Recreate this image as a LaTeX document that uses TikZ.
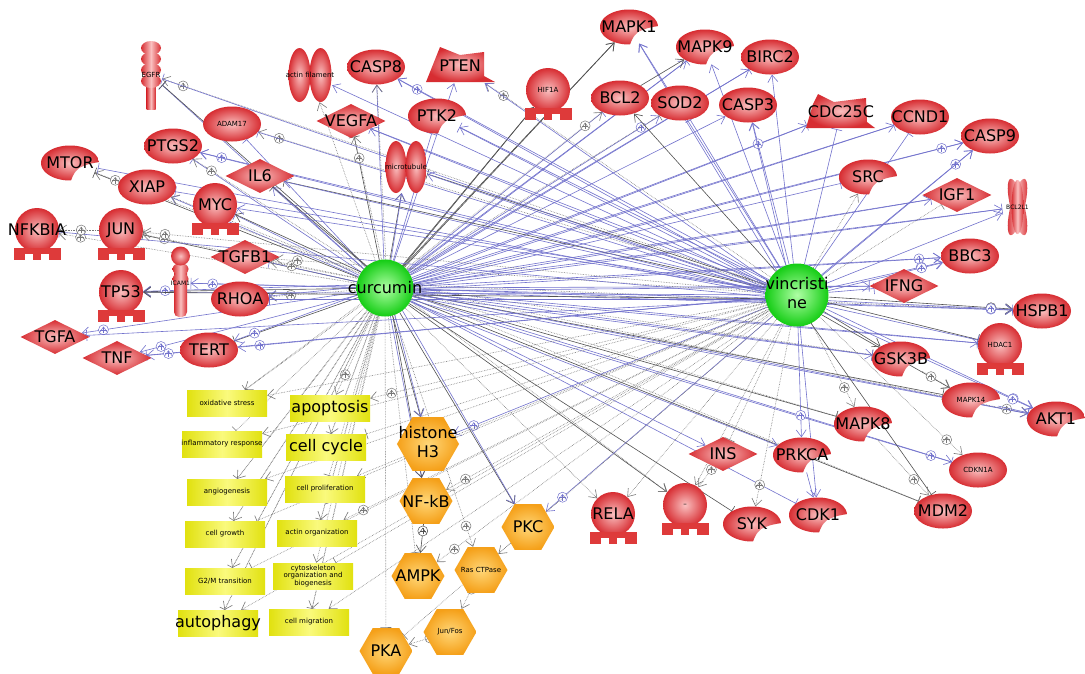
\documentclass[tikz,border=0pt]{standalone}
\usepackage{fontspec}
\setmainfont{DejaVu Sans}
\usetikzlibrary{shapes.geometric,arrows.meta,decorations.markings}
\definecolor{edb}{RGB}{115,115,205}
\definecolor{edd}{RGB}{80,80,80}
\definecolor{edg}{RGB}{120,120,120}
\definecolor{rin}{RGB}{250,192,192}
\definecolor{rout}{RGB}{215,45,50}
\definecolor{rbase}{RGB}{222,58,58}
\definecolor{gin}{RGB}{175,255,165}
\definecolor{gout}{RGB}{20,205,20}
\definecolor{oin}{RGB}{255,215,120}
\definecolor{oout}{RGB}{245,160,25}
\definecolor{yin}{RGB}{250,250,125}
\definecolor{yout}{RGB}{225,225,15}
\newcommand\zl[1]{\makebox[0pt]{#1}}
\newcommand\tfbase[1]{%
 \fill[rbase] ([shift={(-23.5pt,4pt)}]#1.south) rectangle ([shift={(23.5pt,-2pt)}]#1.south);
 \fill[rbase] ([shift={(-23.5pt,-1.5pt)}]#1.south) rectangle ([shift={(-12pt,-7.5pt)}]#1.south);
 \fill[rbase] ([shift={(-4pt,-1.5pt)}]#1.south) rectangle ([shift={(4pt,-7.5pt)}]#1.south);
 \fill[rbase] ([shift={(12pt,-1.5pt)}]#1.south) rectangle ([shift={(23.5pt,-7.5pt)}]#1.south);}
% kinase shape (ellipse with a notch at lower right) and its node
\newcommand\kinode[5][]{%
 \shade[rsh] plot[domain=-3:-272, samples=60, variable=\aa] ({#3+29*cos(\aa)},{#4+17.5*sin(\aa)})
   .. controls ({#3+4},{#4+10}) .. ({#3+9},{#4+5}) .. controls ({#3+18},{#4+1}) .. cycle;
 \node[kin,#1] (#2) at (#3,#4) {\zl{#5}};}
\pgfdeclarelayer{bg}
\pgfdeclarelayer{edges}
\pgfsetlayers{bg,edges,main}
\tikzset{
 big/.style={font=\fontsize{16}{19}\selectfont},
 sml/.style={font=\fontsize{7}{8}\selectfont},
 rsh/.style={shade, inner color=rin, outer color=rout},
 csh/.style={shade, left color=rout, right color=rout, middle color=rin},
 ell/.style={ellipse, minimum width=58pt, minimum height=35pt, inner sep=0pt, rsh, big},
 kin/.style={ellipse, minimum width=58pt, minimum height=35pt, inner sep=0pt, big},
 dia/.style={diamond, minimum width=69pt, minimum height=34pt, inner sep=0pt, rsh, big},
 tf/.style={circle, minimum size=44pt, inner sep=0pt, rsh, big},
 hex/.style={regular polygon, regular polygon sides=6, minimum size=53pt, inner sep=0pt, shade, inner color=oin, outer color=oout, big},
 drug/.style={circle, inner sep=0pt, shade, inner color=gin, outer color=gout, big},
 ybox/.style={rectangle, minimum width=80pt, minimum height=26pt, inner sep=0pt, shade, left color=yout, right color=yout, middle color=yin, sml, align=center},
 ghost/.style={rectangle, inner sep=0pt},
 eb/.style={draw=edb, line width=0.6pt},
 ed/.style={draw=edd, line width=0.6pt},
 eg/.style={draw=edg, line width=0.6pt, densely dotted},
 ar/.style={-{Straight Barb[length=7pt,width=10pt]}},
 tb/.style={-{Bar[width=11pt]}},
 oplus/.style={circle, draw=#1, fill=white, solid, line width=0.5pt, minimum size=10pt, inner sep=0pt,
   path picture={\draw[#1, solid, line width=0.5pt]
     ([xshift=-3.3pt]path picture bounding box.center) -- ([xshift=3.3pt]path picture bounding box.center)
     ([yshift=-3.3pt]path picture bounding box.center) -- ([yshift=3.3pt]path picture bounding box.center);}},
 pk/.style={postaction={decorate}, decoration={markings, mark=at position -22pt with {\node[oplus=#1] {};}}},
 lba/.style={eb, ar}, lbt/.style={eb, tb}, lbp/.style={eb, ar, pk=edb},
 lda/.style={ed, ar}, ldt/.style={ed, tb}, ldp/.style={ed, ar, pk=edd},
 lga/.style={eg, ar}, lgt/.style={eg, tb}, lgp/.style={eg, ar, pk=edg},
}
\begin{document}
\begin{tikzpicture}[x=1pt,y=-1pt]
\begin{pgfonlayer}{bg}
\fill[white] (0,0) rectangle (1085,673);
\end{pgfonlayer}
\useasboundingbox (0,0) rectangle (1085,673);

% ---- custom shapes ----
% EGFR receptor
\shade[csh] (146.5,80) rectangle (155.5,109);
\foreach \yy in {48,59,70,81} {\shade[csh] (151,\yy) ellipse[x radius=10pt, y radius=7pt];}
% ICAM1 receptor
\shade[csh, rounded corners=5pt] (174,264) rectangle (187,317);
\foreach \yy in {269,279} {\shade[csh] (180.5,\yy) ellipse[x radius=8pt, y radius=6pt];}
\shade[rsh] (180.5,256) circle[radius=9.5pt];
% BCL2L1
\shade[csh, rotate around={14:(1017.5,207)}] (1017.5,207) ellipse[x radius=7pt, y radius=29pt];
\shade[csh, rotate around={-14:(1017.5,207)}] (1017.5,207) ellipse[x radius=7pt, y radius=29pt];
\shade[csh] (1017.5,207) ellipse[x radius=6pt, y radius=27pt];
% actin filament, microtubule
\shade[rsh] (299.5,75) ellipse[x radius=11pt, y radius=27pt];
\shade[rsh] (320.5,75) ellipse[x radius=11pt, y radius=27pt];
\shade[rsh] (396,167) ellipse[x radius=10.5pt, y radius=26pt];
\shade[rsh] (416,167) ellipse[x radius=10.5pt, y radius=26pt];
% PTEN, CDC25C
\shade[rsh] (426,82) -- (440,47) -- (460,55) -- (484,52) -- (484,76) -- (495,82) -- cycle;
\shade[rsh] (806,128) -- (813,104) -- (818,94) -- (834,102) -- (866,98) -- (867,122) -- (875,128) -- cycle;

% ---- nodes ----
\node[drug, minimum size=57pt] (cur) at (385,288) {\zl{curcumin}};
\node[drug, minimum size=63pt] (vin) at (797,295) {\zl{\begin{tabular}{@{}c@{}}vincristi\\ne\end{tabular}}};

\node[ghost, minimum width=22pt, minimum height=68pt, sml] (EGFR) at (151,75) {EGFR};
\node[ghost, minimum width=20pt, minimum height=70pt, font=\fontsize{6}{7}\selectfont] (ICAM1) at (180.5,283) {ICAM1};
\node[ghost, minimum width=30pt, minimum height=58pt, font=\fontsize{6}{7}\selectfont] (BCL2L1) at (1017.5,207) {BCL2L1};
\node[ghost, minimum width=44pt, minimum height=54pt, sml] (actf) at (310,75) {\zl{actin filament}};
\node[ghost, minimum width=42pt, minimum height=52pt, sml] (mict) at (406,167) {\zl{microtubule}};
\node[ghost, minimum width=68pt, minimum height=34pt, big] (PTEN) at (460,66) {\zl{PTEN}};
\node[ghost, minimum width=68pt, minimum height=34pt, big] (CDC25C) at (841,112) {\zl{CDC25C}};

\node[ell] (CASP8) at (376,67) {\zl{CASP8}};
\node[ell] (BCL2) at (620,98) {\zl{BCL2}};
\node[ell] (SOD2) at (680,103) {\zl{SOD2}};
\node[ell] (CASP3) at (748,105) {\zl{CASP3}};
\node[ell] (BIRC2) at (770,57) {\zl{BIRC2}};
\node[ell] (CCND1) at (920,117) {\zl{CCND1}};
\node[ell] (CASP9) at (990,136) {\zl{CASP9}};
\node[ell] (BBC3) at (970,256) {\zl{BBC3}};
\node[ell] (HSPB1) at (1042,311) {\zl{HSPB1}};
\node[ell] (MDM2) at (943,511) {\zl{MDM2}};
\node[ell, sml] (CDKN1A) at (978,470) {\zl{CDKN1A}};
\node[ell] (PTGS2) at (173,146) {\zl{PTGS2}};
\node[ell, sml] (ADAM17) at (232,124) {\zl{ADAM17}};
\node[ell] (XIAP) at (147,187) {\zl{XIAP}};
\node[ell] (RHOA) at (240,299) {\zl{RHOA}};
\node[ell] (TERT) at (209,350) {\zl{TERT}};

\kinode{MAPK1}{629}{27}{MAPK1}
\kinode{MAPK9}{705}{47}{MAPK9}
\kinode{PTK2}{437}{116}{PTK2}
\kinode{SRC}{868}{177}{SRC}
\kinode{GSK3B}{901}{359}{GSK3B}
\kinode[sml]{MAPK14}{971}{400}{MAPK14}
\kinode{AKT1}{1056}{419}{AKT1}
\kinode{MAPK8}{863}{424}{MAPK8}
\kinode{PRKCA}{802}{455}{PRKCA}
\kinode{CDK1}{818}{515}{CDK1}
\kinode{SYK}{752}{524}{SYK}
\kinode{MTOR}{70}{163}{MTOR}

\node[dia] (VEGFA) at (351,121) {\zl{VEGFA}};
\node[dia] (IL6) at (260,176) {\zl{IL6}};
\node[dia] (TGFB1) at (245,257) {\zl{TGFB1}};
\node[dia] (TGFA) at (55,337) {\zl{TGFA}};
\node[dia] (TNF) at (117,358) {\zl{TNF}};
\node[dia] (IFNG) at (904,286) {\zl{IFNG}};
\node[dia] (IGF1) at (957,195) {\zl{IGF1}};
\node[dia] (INS) at (723,454) {\zl{INS}};

\node[tf, sml] (HIF1A) at (548,90) {\zl{HIF1A}};
\node[tf] (NFKBIA) at (37,230) {\zl{NFKBIA}};
\node[tf] (JUN) at (121,230) {\zl{JUN}};
\node[tf] (MYC) at (215,205) {\zl{MYC}};
\node[tf] (TP53) at (121,292) {\zl{TP53}};
\node[tf, sml] (HDAC1) at (1000,345) {\zl{HDAC1}};
\node[tf] (RELA) at (613,514) {\zl{RELA}};
\node[tf, sml] (minus) at (685,505) {\zl{–}};
\foreach \nn in {HIF1A,NFKBIA,JUN,MYC,TP53,HDAC1,RELA,minus} {\tfbase{\nn}}

\node[hex] (hist) at (428,444) {\zl{\begin{tabular}{@{}c@{}}histone\\H3\end{tabular}}};
\node[hex] (NFkB) at (426,501) {\zl{NF-kB}};
\node[hex] (PKC) at (528,527) {\zl{PKC}};
\node[hex] (AMPK) at (418,576) {\zl{AMPK}};
\node[hex, sml] (Ras) at (481,570) {\zl{Ras CTPase}};
\node[hex, sml] (JunFos) at (450,632) {\zl{Jun/Fos}};
\node[hex] (PKA) at (386,651) {\zl{PKA}};

\node[ybox] (oxs) at (227,403) {oxidative stress};
\node[ybox, big] (apo) at (330,408) {\zl{apoptosis}};
\node[ybox] (infl) at (222,444) {\zl{inflammatory response}};
\node[ybox, big] (ccyc) at (326,447) {\zl{cell cycle}};
\node[ybox] (angio) at (227,492) {angiogenesis};
\node[ybox] (prolif) at (325,489) {cell proliferation};
\node[ybox] (growth) at (225,534) {cell growth};
\node[ybox] (actorg) at (317,533) {actin organization};
\node[ybox] (g2m) at (225,581) {G2/M transition};
\node[ybox, font=\fontsize{7}{7.8}\selectfont] (cyto) at (313,576) {cytoskeleton\\organization and\\biogenesis};
\node[ybox, big] (autoph) at (218,623) {\zl{autophagy}};
\node[ybox] (migr) at (309,622) {cell migration};

% ---- edges ----
\begin{pgfonlayer}{edges}
\foreach \tg/\st in {EGFR/lbt, actf/lga, CASP8/lba, VEGFA/ldt, PTEN/lba, PTK2/lbt, HIF1A/lda, mict/lda, MAPK1/lda, MAPK9/lba, BIRC2/lbt, BCL2/lbt, SOD2/lbp, CASP3/lba, CDC25C/lbt, CCND1/lbt, CASP9/lba, IGF1/lba, BCL2L1/lba, BBC3/lbp, IFNG/lbt, HSPB1/lbp, HDAC1/lbt, GSK3B/lba, MAPK14/ldt, AKT1/lbt, MAPK8/ldt, CDKN1A/lbp, MDM2/ldt, CDK1/lbt, SYK/ldt, INS/lba, minus/lda, RELA/lga, PKC/lda, hist/lda, NFkB/lba, PKA/lgt, AMPK/lgt, Ras/lgp, MTOR/ldt, PTGS2/lbt, ADAM17/lbt, XIAP/lba, IL6/lba, MYC/lbt, NFKBIA/lgp, JUN/ldt, TGFB1/lbt, ICAM1/lbt, TP53/lda, RHOA/lgp, TGFA/lbp, TNF/lbp, TERT/ldt, oxs/lgt, apo/lgp, infl/lgt, ccyc/lga, angio/lgt, prolif/lgt, growth/lga, actorg/lgt, g2m/lga, cyto/lgp, autoph/lga, migr/lgt}
 {\draw[\st] (cur) -- (\tg);}
\foreach \tg/\st in {EGFR/ldt, HIF1A/lda, MAPK1/lda, mict/lba, TP53/lbp, MTOR/lgp, TGFB1/lgp, RHOA/lba, TERT/lbp, JUN/lgp, CASP8/lga, PTGS2/lgp, hist/lba, PKC/lba, NFkB/lda, MYC/lda, XIAP/lga, IL6/ldt, VEGFA/lgp, BCL2/lgp, SOD2/lgt, MDM2/lgt, AKT1/lgp, HSPB1/lga, MAPK8/lgt, minus/lga, GSK3B/lgt, oxs/lga, ccyc/lgt, angio/lga, growth/lgt, g2m/lgt, autoph/lgt, actorg/lgp, migr/lga}
 {\draw[\st] ([shift={(2pt,4pt)}]cur.center) -- (\tg);}
\foreach \tg/\st in {CASP9/lbp, BCL2L1/lbt, IGF1/lbt, CCND1/lba, CDC25C/lba, BIRC2/lba, MAPK9/lbt, HSPB1/lbt, BBC3/lba, GSK3B/lbt, AKT1/lba, CDKN1A/lbt, PRKCA/lba, SRC/lbt, HDAC1/lba, IFNG/lba}
 {\draw[\st] ([shift={(-2pt,-3pt)}]cur.center) -- (\tg);}
\foreach \tg/\st in {EGFR/lgp, CASP8/lbp, VEGFA/lbt, PTEN/lgp, PTK2/lba, mict/ldt, MAPK1/lba, MAPK9/lba, BIRC2/lba, BCL2/lda, SOD2/lbt, CASP3/lbp, CDC25C/lbt, CCND1/lbt, CASP9/lbp, SRC/lga, IGF1/lgt, BCL2L1/lba, BBC3/lbp, IFNG/lbt, HSPB1/ldp, HDAC1/ldt, GSK3B/lda, AKT1/lbp, MAPK8/lgp, CDKN1A/lgp, PRKCA/lbp, CDK1/lba, SYK/lgp, INS/lgt, RELA/lga, PKC/lbp, hist/lbp, NFkB/lgp, AMPK/lgp, PTGS2/lbp, ADAM17/lgp, IL6/ldt, MYC/lba, JUN/lgp, TGFB1/lgp, TP53/lba, TERT/lbp, TNF/lbt, XIAP/lbt, apo/lgp, ccyc/lgt, prolif/lga, actorg/lgp, cyto/lgt, angio/lga, growth/lgt, g2m/lgt, autoph/lga, oxs/lga, infl/lga, migr/lga, minus/lga, PKA/lgt}
 {\draw[\st] (vin) -- (\tg);}
\foreach \tg/\st in {HSPB1/lbp, AKT1/lbp, BBC3/lbp, CASP9/lba, HDAC1/lbt, MAPK14/lda, MDM2/ldt, TP53/lda, mict/lba, IL6/lba, PTK2/lbt, CASP3/lba, MAPK1/lba, PTEN/lba, CASP8/lba, VEGFA/lba, ADAM17/lbt, PTGS2/lba, MTOR/lbt, ICAM1/lbp, RHOA/lbt, TGFA/lbt, NFKBIA/lbt, EGFR/lbt, actf/lba}
 {\draw[\st] ([shift={(-3pt,-4pt)}]vin.center) -- (\tg);}
\draw[lgp] (JUN) -- (NFKBIA);
\draw[ldp] (NFkB) -- (AMPK);
\draw[lga] (PKC) -- (Ras);
\draw[lgp] (Ras) -- (JunFos);
\draw[lgp] (JunFos) -- (PKA);
\draw[lgp] (INS) -- (minus);
\draw[lgp] (GSK3B) -- (MAPK14);
\draw[lgp] (MAPK8) -- (MDM2);
\draw[lba] (PRKCA) -- (CDK1);
\draw[lbt] (MAPK14) -- (AKT1);
\draw[lda] (BCL2) -- (MAPK9);
\draw[lbp] (TERT) -- (TNF);
\end{pgfonlayer}
\end{tikzpicture}
\end{document}
